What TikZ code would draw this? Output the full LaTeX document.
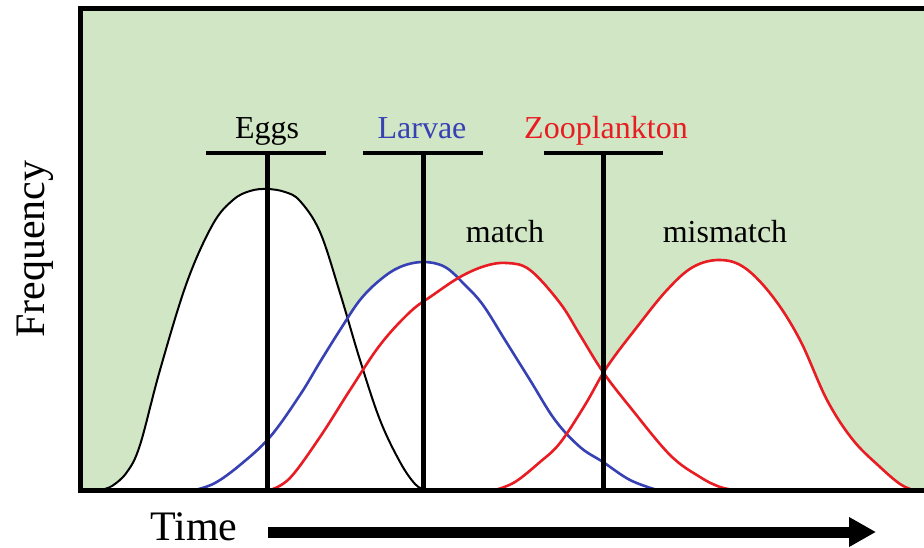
\documentclass[tikz,border=0pt]{standalone}
\usepackage{fontspec}
\setmainfont{Liberation Serif}
\usetikzlibrary{arrows.meta}
\definecolor{bggreen}{RGB}{209,230,197}
\definecolor{larvblue}{RGB}{55,65,180}
\definecolor{zoored}{RGB}{232,28,34}

% curves, in pixel units
\newcommand{\eggcurve}{plot[smooth,tension=0.6] coordinates {(100,490) (112,486) (127,472) (140,445) (160,370) (187,282) (213,224) (233,200) (250,191) (267,189) (285,192) (300,201) (320,232) (340,293) (360,360) (380,420) (400,462) (415,484) (425,490)}}
\newcommand{\larvcurve}{plot[smooth,tension=0.6] coordinates {(195,490) (215,483) (240,465) (270,437) (300,395) (320,362) (340,330) (360,300) (380,280) (400,267) (423,262) (445,267) (465,285) (483,305) (505,340) (530,380) (555,420) (580,447) (603,462) (630,480) (657,490)}}
\newcommand{\matchcurve}{plot[smooth,tension=0.6] coordinates {(270,490) (290,478) (320,437) (350,390) (380,345) (410,312) (433,295) (460,277) (485,266) (507,263) (530,270) (560,303) (580,335) (603,372) (630,407) (670,455) (700,477) (720,487) (735,490)}}
\newcommand{\mismcurve}{plot[smooth,tension=0.6] coordinates {(495,490) (515,482) (540,462) (560,443) (585,405) (607,367) (637,327) (667,290) (693,267) (720,260) (745,268) (773,297) (800,340) (827,400) (853,440) (880,467) (900,484) (913,490)}}

\begin{document}
\begin{tikzpicture}[x=1pt,y=-1pt,
      lbl/.style={anchor=base,inner sep=0pt,font=\fontsize{32}{38}\selectfont},
      axis/.style={inner sep=0pt,font=\fontsize{42}{50}\selectfont},
      bar/.style={line width=4pt},
      stem/.style={line width=5pt},
      curve/.style={line width=2.6pt,line join=round}]
  \useasboundingbox (0,0) rectangle (924,548);
  % background and white areas under the curves
  \fill[bggreen] (80,9) rectangle (924,490);
  \fill[white] \eggcurve -- cycle;
  \fill[white] \larvcurve -- cycle;
  \fill[white] \matchcurve -- cycle;
  \fill[white] \mismcurve -- cycle;
  \draw[curve,black,line width=2pt] \eggcurve;
  \draw[curve,larvblue] \larvcurve;
  \draw[curve,zoored] \matchcurve;
  \draw[curve,zoored] \mismcurve;
  % frame
  \draw[line width=5pt] (924,9) -- (80,9) -- (80,490) -- (924,490);
  % labels
  \node[lbl] (eggs) at (267,139) {Eggs};
  \node[lbl,text=larvblue] (larvae) at (422,139) {Larvae};
  \node[lbl,text=zoored] (zoo) at (606,139) {Zooplankton};
  \node[lbl] (match) at (505,243) {match};
  \node[lbl] (mismatch) at (725,243) {mismatch};
  % bars and stems
  \coordinate (eggsL) at (206,153);
  \coordinate (eggsR) at (326,153);
  \coordinate (eggsT) at (267,153);
  \coordinate (eggsB) at (267,490);
  \coordinate (larvL) at (363,153);
  \coordinate (larvR) at (483,153);
  \coordinate (larvT) at (423,153);
  \coordinate (larvB) at (423,490);
  \coordinate (zooL) at (544,153);
  \coordinate (zooR) at (663,153);
  \coordinate (zooT) at (603,153);
  \coordinate (zooB) at (603,490);
  \draw[bar] (eggsL) -- (eggsR);
  \draw[stem] (eggsT) -- (eggsB);
  \draw[bar] (larvL) -- (larvR);
  \draw[stem] (larvT) -- (larvB);
  \draw[bar] (zooL) -- (zooR);
  \draw[stem] (zooT) -- (zooB);
  % axes
  \node[axis,rotate=90,anchor=base] (freq) at (44,249) {Frequency};
  \node[axis,anchor=base west] (time) at (150,540) {Time};
  \coordinate (tstart) at (268,532);
  \coordinate (tend) at (876,532);
  \draw[line width=11pt,-{Triangle[length=27pt,width=28pt]}] (tstart) -- (tend);
\end{tikzpicture}
\end{document}
